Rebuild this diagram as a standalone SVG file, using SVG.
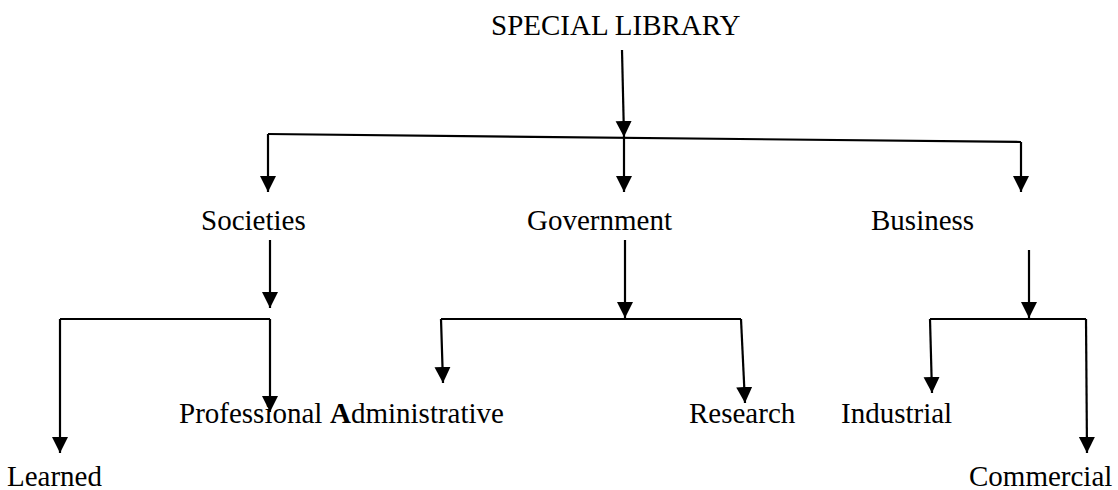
<svg xmlns="http://www.w3.org/2000/svg" width="1118" height="490" viewBox="0 0 1118 490">
<style>
text{font-family:"Liberation Serif","Times New Roman",serif;font-size:29px;fill:#000}
.c line,.c polyline{stroke:#000;stroke-width:2.2;fill:none}
</style>
<defs>
<marker id="ah" markerUnits="userSpaceOnUse" markerWidth="17" markerHeight="17" viewBox="0 0 17 17" refX="16" refY="8" orient="auto">
<path d="M0,0 L16,8 L0,16 z" fill="#000"/>
</marker>
</defs>
<rect width="1118" height="490" fill="#fff"/>
<g class="c" id="connectors">
<line x1="622" y1="50" x2="624" y2="137" marker-end="url(#ah)"/>
<line x1="268" y1="134" x2="1021" y2="142"/>
<line x1="268" y1="134" x2="268" y2="192" marker-end="url(#ah)"/>
<line x1="624" y1="138" x2="624" y2="192" marker-end="url(#ah)"/>
<line x1="1021" y1="142" x2="1021" y2="192" marker-end="url(#ah)"/>
<line x1="270" y1="240" x2="270" y2="308" marker-end="url(#ah)"/>
<polyline points="60,319 270,319"/>
<line x1="60" y1="319" x2="60" y2="453" marker-end="url(#ah)"/>
<line x1="270" y1="319" x2="270" y2="412" marker-end="url(#ah)"/>
<line x1="625" y1="240" x2="625" y2="318" marker-end="url(#ah)"/>
<line x1="441" y1="319" x2="741" y2="319"/>
<line x1="441" y1="319" x2="443" y2="383" marker-end="url(#ah)"/>
<line x1="741" y1="319" x2="745" y2="403" marker-end="url(#ah)"/>
<line x1="1029" y1="250" x2="1029" y2="318" marker-end="url(#ah)"/>
<line x1="930" y1="319" x2="1086" y2="319"/>
<line x1="930" y1="319" x2="932" y2="393" marker-end="url(#ah)"/>
<line x1="1086" y1="319" x2="1087" y2="453" marker-end="url(#ah)"/>
</g>
<g id="special-library"><text x="491" y="35">SPECIAL LIBRARY</text></g>
<g id="societies"><text x="201" y="230">Societies</text></g>
<g id="government"><text x="527" y="230">Government</text></g>
<g id="business"><text x="871" y="230">Business</text></g>
<g id="professional"><text x="179" y="423">Professional</text></g>
<g id="administrative"><text x="330" y="423"><tspan font-weight="bold">A</tspan>dministrative</text></g>
<g id="research"><text x="689" y="423">Research</text></g>
<g id="industrial"><text x="841" y="423">Industrial</text></g>
<g id="learned"><text x="7" y="486">Learned</text></g>
<g id="commercial"><text x="969" y="486">Commercial</text></g>
</svg>
